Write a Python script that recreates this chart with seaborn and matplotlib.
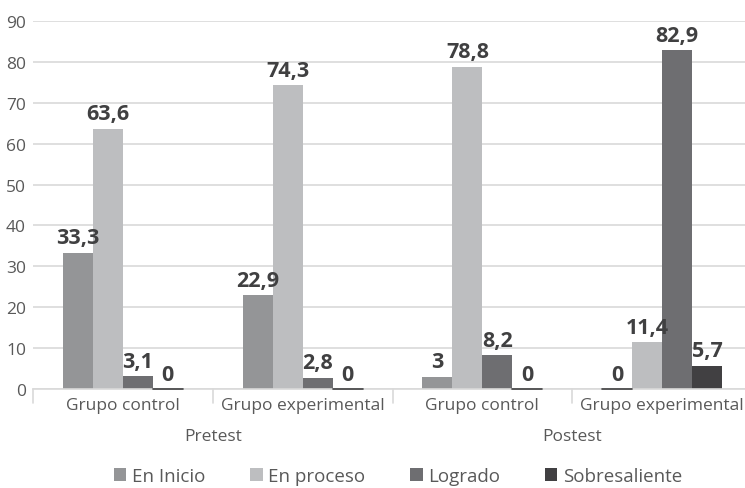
import pandas as pd
import numpy as np
import matplotlib
matplotlib.use("Agg")
import matplotlib.pyplot as plt
import seaborn as sns

# Data
grupos = ["Grupo control", "Grupo experimental", "Grupo control", "Grupo experimental"]
fases = ["Pretest", "Pretest", "Postest", "Postest"]
niveles = ["En Inicio", "En proceso", "Logrado", "Sobresaliente"]
en_inicio = [33.3, 22.9, 3, 0]
en_proceso = [63.6, 74.3, 78.8, 11.4]
logrado = [3.1, 2.8, 8.2, 82.9]
sobresaliente = [0, 0, 0, 5.7]
colores = ["#939598", "#bcbec0", "#6d6e71", "#414042"]

claves = [f"{f} {g}" for f, g in zip(fases, grupos)]
rows = []
for nivel, vals in zip(niveles, [en_inicio, en_proceso, logrado, sobresaliente]):
    for k, v in zip(claves, vals):
        rows.append({"grupo": k, "nivel": nivel, "valor": v})
df = pd.DataFrame(rows)

sns.set_style("white")
plt.rcParams["font.family"] = ["Open Sans", "DejaVu Sans"]

fig = plt.figure(figsize=(7.45, 4.89), dpi=100)
ax = fig.add_axes([33 / 745, 1 - 390 / 489, 719 / 745, 368 / 489])

sns.barplot(data=df, x="grupo", y="valor", hue="nivel", order=claves,
            hue_order=niveles, palette=colores, width=0.667, gap=0,
            edgecolor=None, linewidth=0, ax=ax, legend=True)

# value labels
for cont in ax.containers:
    for bar in cont:
        h = bar.get_height()
        txt = f"{h:g}".replace(".", ",")
        ax.text(bar.get_x() + bar.get_width() / 2, h + 1.1, txt,
                ha="center", va="bottom", fontsize=15.5, fontweight="bold",
                color="#404041")
        if h == 0:
            ax.plot([bar.get_x(), bar.get_x() + bar.get_width()], [0, 0],
                    color="#404041", lw=1.2, zorder=5, clip_on=False)

ax.set_ylim(0, 90)
ax.set_xlim(-0.5, 3.5)
ax.set_yticks(np.arange(0, 91, 10))
ax.yaxis.grid(True, color="#d9d9d9", lw=1.2)
ax.set_axisbelow(True)
for s in ["top", "right", "left"]:
    ax.spines[s].set_visible(False)
ax.spines["bottom"].set_color("#d9d9d9")
ax.spines["bottom"].set_linewidth(1.2)
ax.tick_params(axis="both", length=0, labelsize=12.5, colors="#595959")
ax.tick_params(axis="y", pad=5)
ax.tick_params(axis="x", pad=6)
ax.set_xticks(range(4))
ax.set_xticklabels(grupos)
ax.set_xlabel("")
ax.set_ylabel("")

# separators for group labels
trans = ax.get_xaxis_transform()
for xs in [-0.5, 0.5, 1.5, 2.5, 3.5]:
    ax.plot([xs, xs], [0, -0.037], color="#d9d9d9", lw=1.2,
            transform=trans, clip_on=False)

for xc, fase in [(0.5, "Pretest"), (2.5, "Postest")]:
    ax.text(xc, -0.128, fase, transform=trans, ha="center", va="center",
            fontsize=12.5, color="#595959")

ax.legend(loc="center", bbox_to_anchor=(0.508, -0.237), ncol=4,
          frameon=False, fontsize=13.5, handlelength=0.65, handleheight=0.65,
          handletextpad=0.3, columnspacing=2.4, labelcolor="#595959")

fig.savefig("out.png", dpi=100)
